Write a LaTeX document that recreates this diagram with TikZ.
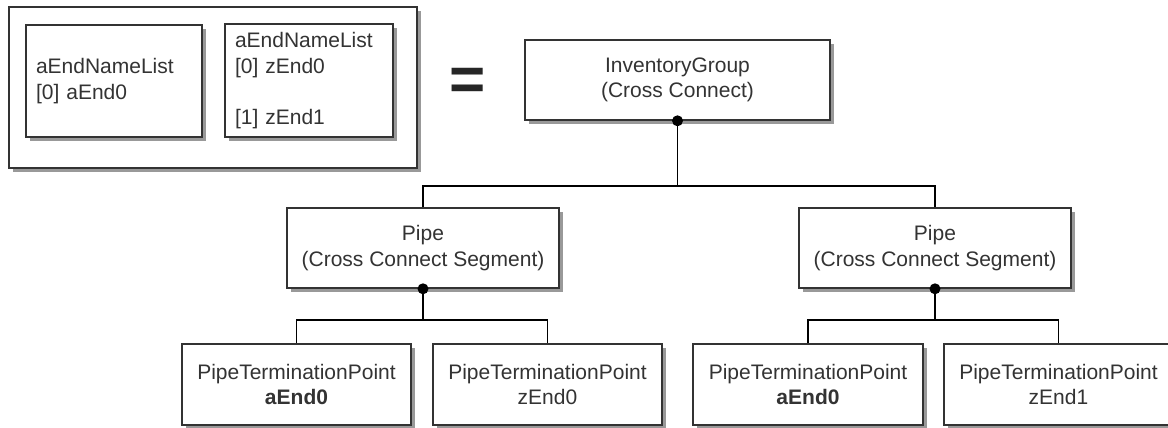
\documentclass[tikz,border=0pt]{standalone}
\usepackage{fontspec}
\setmainfont{Liberation Sans}
\usetikzlibrary{shadows,calc}
\begin{document}
\begin{tikzpicture}[x=1pt,y=-1pt,
  box/.style={draw=black!80, line width=1.6pt, fill=white,
    drop shadow={shadow xshift=4pt,shadow yshift=-4pt,fill=black!40,opacity=1},
    inner sep=0pt, align=center, text=black!80,
    font=\fontsize{21}{25.5}\selectfont},
  conn/.style={draw=black, line width=1.6pt}
]
\useasboundingbox (0,0) rectangle (1168,428);
% left group
\node[box, minimum width=408pt, minimum height=161pt] (outer) at (213,87.5) {};
\node[box, text width=156pt, inner xsep=10pt, minimum height=112pt, align=left] (b1) at (114,81)
  {aEndNameList\\{}[0] aEnd0};
\node[box, text width=148pt, inner xsep=10pt, minimum height=113pt, align=left] (b2) at (309,80.5)
  {aEndNameList\\{}[0] zEnd0\\\mbox{}\\{}[1] zEnd1};
\node[font=\fontsize{62}{62}\selectfont\bfseries, text=black!85, inner sep=0pt] (eq) at (468,84.5) {=};
% tree
\node[box, minimum width=305pt, minimum height=80pt] (IG) at (677.5,80) {InventoryGroup\\(Cross Connect)};
\node[box, minimum width=272pt, minimum height=80pt] (pL) at (423,248) {Pipe\\(Cross Connect Segment)};
\node[box, minimum width=272pt, minimum height=80pt] (pR) at (935,248) {Pipe\\(Cross Connect Segment)};
\node[box, minimum width=229pt, minimum height=81pt] (t1) at (296.5,384.5) {PipeTerminationPoint\\\textbf{aEnd0}};
\node[box, minimum width=229pt, minimum height=81pt] (t2) at (547.5,384.5) {PipeTerminationPoint\\zEnd0};
\node[box, minimum width=230pt, minimum height=81pt] (t3) at (808,384.5) {PipeTerminationPoint\\\textbf{aEnd0}};
\node[box, minimum width=229pt, minimum height=81pt] (t4) at (1058.5,384.5) {PipeTerminationPoint\\zEnd1};
\coordinate (bus1) at (0,186);
\coordinate (bus2) at (0,320);
\draw[conn] (IG.south) -- (IG.south |- bus1);
\draw[conn] (pL.north) |- (IG.south |- bus1) -| (pR.north);
\draw[conn] (pL.south) -- (pL.south |- bus2);
\draw[conn] (t1.north) |- (pL.south |- bus2) -| (t2.north);
\draw[conn] (pR.south) -- (pR.south |- bus2);
\draw[conn] (t3.north) |- (pR.south |- bus2) -| (t4.north);
\fill (IG.south) circle (5.5pt);
\fill (pL.south) circle (5.5pt);
\fill (pR.south) circle (5.5pt);
\end{tikzpicture}
\end{document}
